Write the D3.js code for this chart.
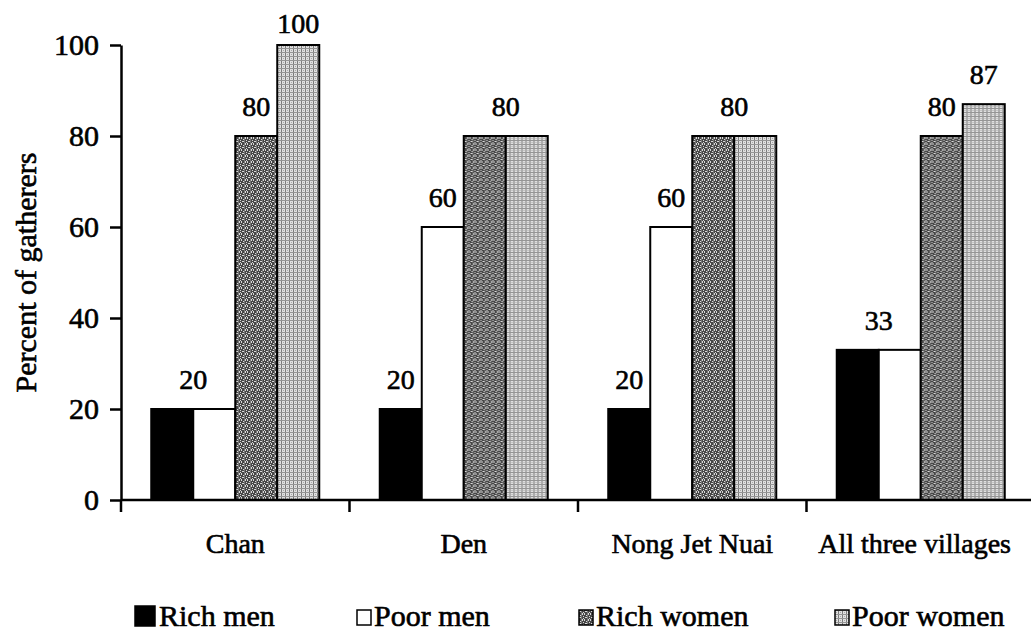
<!DOCTYPE html>
<html>
<head>
<meta charset="utf-8">
<script src="https://cdn.jsdelivr.net/npm/d3@7/dist/d3.min.js"></script>
<style>
  html, body { margin: 0; padding: 0; background: #fff; }
  svg { display: block; }
  svg text { font-family: "Liberation Serif", "Times New Roman", serif !important; fill: #000; stroke: #000; stroke-width: 0.6px; }
</style>
</head>
<body>
<svg id="chart" width="1031" height="631" font-family="Liberation Serif, Times New Roman, serif"></svg>
<script>
// Villages and the four gatherer groups
const categories = ["Chan", "Den", "Nong Jet Nuai", "All three villages"];
const seriesNames = ["Rich men", "Poor men", "Rich women", "Poor women"];

// Percent of gatherers, one value per village
const richMen   = [20, 20, 20, 33];
const poorMen   = [20, 60, 60, 33];
const richWomen = [80, 80, 80, 80];
const poorWomen = [100, 80, 80, 87];

const yTicks = [0, 20, 40, 60, 80, 100];

// Value labels: village, first and last series index the label sits over
const labelSpans = [
  ["Chan", 0, 1], ["Chan", 2, 2], ["Chan", 3, 3],
  ["Den", 0, 0], ["Den", 1, 1], ["Den", 2, 3],
  ["Nong Jet Nuai", 0, 0], ["Nong Jet Nuai", 1, 1], ["Nong Jet Nuai", 2, 3],
  ["All three villages", 0, 1], ["All three villages", 2, 2], ["All three villages", 3, 3]
];

const seriesValues = [richMen, poorMen, richWomen, poorWomen];
const rows = categories.map((c, i) => ({
  category: c,
  values: seriesNames.map((s, k) => ({ series: s, k, value: seriesValues[k][i] }))
}));

const W = 1031, H = 631;
const plotLeft = 121, plotRight = 1035, plotTop = 45, plotBottom = 500;
const FONT = "Liberation Serif, Times New Roman, serif";

const svg = d3.select("#chart");

// Fill textures for the women's bars
const defs = svg.append("defs");
const pRich = defs.append("pattern").attr("id", "texRich")
  .attr("patternUnits", "userSpaceOnUse").attr("width", 6).attr("height", 6);
pRich.append("rect").attr("width", 6).attr("height", 6).attr("fill", "#474747");
[[0,0],[2,1],[4,0],[1,3],[3,4],[5,2],[0,5],[4,5],[2,3],[5,4]].forEach(([x, y]) =>
  pRich.append("rect").attr("x", x).attr("y", y).attr("width", 1).attr("height", 1).attr("fill", "#d8d8d8"));
pRich.append("rect").attr("x", 3).attr("y", 0).attr("width", 1).attr("height", 6).attr("fill", "#777");

const pPoor = defs.append("pattern").attr("id", "texPoor")
  .attr("patternUnits", "userSpaceOnUse").attr("width", 4).attr("height", 4);
pPoor.append("rect").attr("width", 4).attr("height", 4).attr("fill", "#e0e0e0");
pPoor.append("rect").attr("x", 0).attr("y", 0).attr("width", 1).attr("height", 4).attr("fill", "#7c7c7c");
pPoor.append("rect").attr("x", 0).attr("y", 0).attr("width", 4).attr("height", 1).attr("fill", "#959595");
pPoor.append("rect").attr("x", 2).attr("y", 2).attr("width", 1).attr("height", 1).attr("fill", "#aaa");

const fills = {
  "Rich men": "#000",
  "Poor men": "#fff",
  "Rich women": "url(#texRich)",
  "Poor women": "url(#texPoor)"
};

// Scales
const x0 = d3.scaleBand().domain(categories).range([plotLeft, plotRight]).padding(0);
const x1 = d3.scaleBand().domain(seriesNames).range([0, x0.bandwidth()])
  .paddingInner(0).paddingOuter(0.72);
const y = d3.scaleLinear().domain([0, 100]).range([plotBottom, plotTop]);

// Bars
const groups = svg.append("g").selectAll("g").data(rows).join("g")
  .attr("transform", d => `translate(${x0(d.category)},0)`);
groups.selectAll("rect").data(d => d.values).join("rect")
  .attr("x", d => x1(d.series))
  .attr("y", d => y(d.value))
  .attr("width", x1.bandwidth())
  .attr("height", d => y(0) - y(d.value))
  .attr("fill", d => fills[d.series])
  .attr("stroke", "#000")
  .attr("stroke-width", 2);

// Y axis
const yAxis = svg.append("g").attr("transform", `translate(${plotLeft},0)`)
  .call(d3.axisLeft(y).tickValues(yTicks).tickSize(11).tickSizeOuter(0).tickPadding(11));
yAxis.attr("font-family", FONT).attr("font-size", 30);
yAxis.select(".domain").attr("stroke-width", 2.5);
yAxis.selectAll(".tick line").attr("stroke-width", 2.5);
// axis line runs a little below the baseline
yAxis.append("line").attr("x1", 0).attr("x2", 0).attr("y1", y(0)).attr("y2", y(0) + 12)
  .attr("stroke", "#000").attr("stroke-width", 2.5);

// X axis with separator ticks between villages
const xAxis = svg.append("g").attr("transform", `translate(0,${plotBottom})`)
  .call(d3.axisBottom(x0).tickSize(0).tickPadding(33));
xAxis.attr("font-family", FONT).attr("font-size", 28);
xAxis.select(".domain").attr("d", `M${plotLeft},0H${W}`).attr("stroke-width", 2.5);
xAxis.selectAll(".tick text").each(function () {
  const bb = this.getBBox();
  const tx = +d3.select(this.parentNode).attr("transform").match(/translate\(([-\d.]+)/)[1];
  const over = tx + bb.x + bb.width - (W - 20);
  if (over > 0) d3.select(this).attr("x", -over);
});
xAxis.selectAll("line.sep").data(categories.slice(1)).join("line")
  .attr("class", "sep")
  .attr("x1", d => x0(d)).attr("x2", d => x0(d))
  .attr("y1", 0).attr("y2", 12)
  .attr("stroke", "#000").attr("stroke-width", 2.5);

// Y axis title
svg.append("text")
  .attr("transform", `translate(36,${(plotTop + plotBottom) / 2}) rotate(-90)`)
  .attr("text-anchor", "middle")
  .attr("font-family", FONT)
  .attr("font-size", 30)
  .text("Percent of gatherers");

// Value labels
svg.append("g").attr("font-family", FONT).selectAll("text").data(labelSpans).join("text")
  .attr("text-anchor", "middle")
  .attr("font-size", 28)
  .attr("x", ([c, a, b]) => x0(c) + (x1(seriesNames[a]) + x1(seriesNames[b]) + x1.bandwidth()) / 2)
  .attr("y", ([c, a, b]) => {
    const v = seriesValues[b][categories.indexOf(c)];
    return Math.max(y(v) - 20, 33);
  })
  .text(([c, a, b]) => seriesValues[b][categories.indexOf(c)]);

// Legend
const legendX = [135, 356, 578, 834];
const legend = svg.append("g").attr("font-family", FONT).selectAll("g").data(seriesNames).join("g")
  .attr("transform", (d, i) => `translate(${legendX[i]},626)`);
legend.append("rect")
  .attr("x", (d, i) => i === 0 ? 0 : 1)
  .attr("y", (d, i) => i === 0 ? -20 : -16)
  .attr("width", (d, i) => i === 0 ? 20 : 14)
  .attr("height", (d, i) => i === 0 ? 20 : 15)
  .attr("fill", d => fills[d])
  .attr("stroke", "#000").attr("stroke-width", 1.5);
legend.append("text")
  .attr("x", (d, i) => i === 0 ? 24 : 18)
  .attr("y", 0)
  .attr("font-size", 30)
  .text(d => d);
</script>
</body>
</html>
